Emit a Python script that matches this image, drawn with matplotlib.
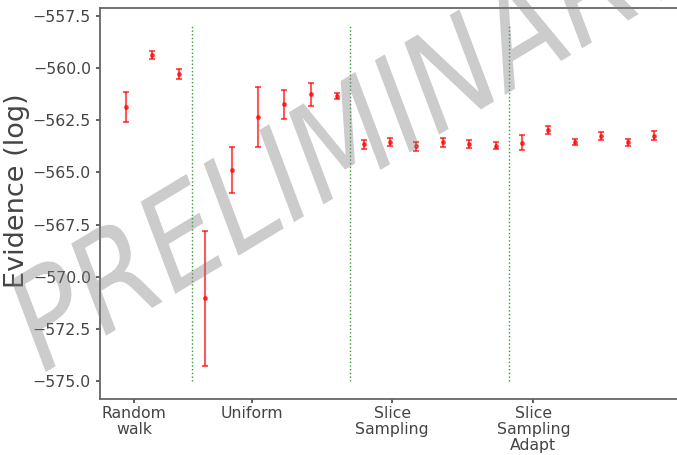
import matplotlib
matplotlib.use("Agg")
import matplotlib.pyplot as plt
from matplotlib.font_manager import FontProperties
from matplotlib.patches import PathPatch
from matplotlib.textpath import TextPath
from matplotlib.transforms import Affine2D

# Evidence estimates per run, grouped by sampler
evidence = [-561.85, -559.37, -560.28,
            -571.04, -564.90, -562.33, -561.74, -561.26, -561.32,
            -563.65, -563.54, -563.75, -563.56, -563.65, -563.72,
            -563.57, -562.97, -563.53, -563.25, -563.56, -563.25]
evidence_err = [0.72, 0.19, 0.26,
                3.23, 1.11, 1.44, 0.69, 0.56, 0.14,
                0.21, 0.20, 0.22, 0.20, 0.18, 0.18,
                0.34, 0.18, 0.14, 0.18, 0.17, 0.22]
group_edges = [2.5, 8.5, 14.5]
group_ticks = [0.31, 4.76, 10.08, 15.43]
group_labels = ["Random\nwalk", "Uniform", "Slice\nSampling", "Slice\nSampling\nAdapt"]

W, H = 677, 455
fig = plt.figure(figsize=(W / 100, H / 100), dpi=100)
ax = fig.add_axes([0.1477, 0.1231, 0.8523, 0.8593])

x = list(range(len(evidence)))
ax.errorbar(x, evidence, yerr=evidence_err, fmt=".", color="red", alpha=0.65,
            capsize=2.5, elinewidth=1.5, capthick=1.5, markersize=5)

# separators between sampler groups
for e in group_edges:
    ax.vlines(e, -575.0, -558.0, colors="green", linestyles=":", linewidth=1, alpha=0.8)

ax.set_xlim(-0.985, 20.87)
ax.set_ylim(-575.86, -557.12)
ax.set_yticks([-557.5, -560.0, -562.5, -565.0, -567.5, -570.0, -572.5, -575.0])
ax.set_xticks(group_ticks)
ax.set_xticklabels(group_labels, linespacing=1.1)
ax.set_ylabel("Evidence (log)", fontsize=19.5, color="#444444")
ax.yaxis.set_label_coords(-0.121, 0.532)

ax.tick_params(labelsize=11.3, colors="#444444", length=3, width=1.2)
ax.tick_params(axis="x", pad=2)
for side in ["left", "top", "bottom"]:
    ax.spines[side].set_color("#666666")
    ax.spines[side].set_linewidth(1.3)
ax.spines["right"].set_visible(False)

# watermark: rotated and squeezed horizontally, placed in pixel units
wm = TextPath((0, 0), "PRELIMINARY", size=140, prop=FontProperties(family="DejaVu Sans"))
wm_tr = (Affine2D().rotate_deg(25.5).scale(0.79, 1.0).translate(36, H - 378)
         .scale(1 / W, 1 / H) + fig.transFigure)
fig.patches.append(PathPatch(wm, transform=wm_tr, facecolor="gray", edgecolor="none",
                             alpha=0.4, zorder=5))

fig.savefig("out.png", dpi=100)
